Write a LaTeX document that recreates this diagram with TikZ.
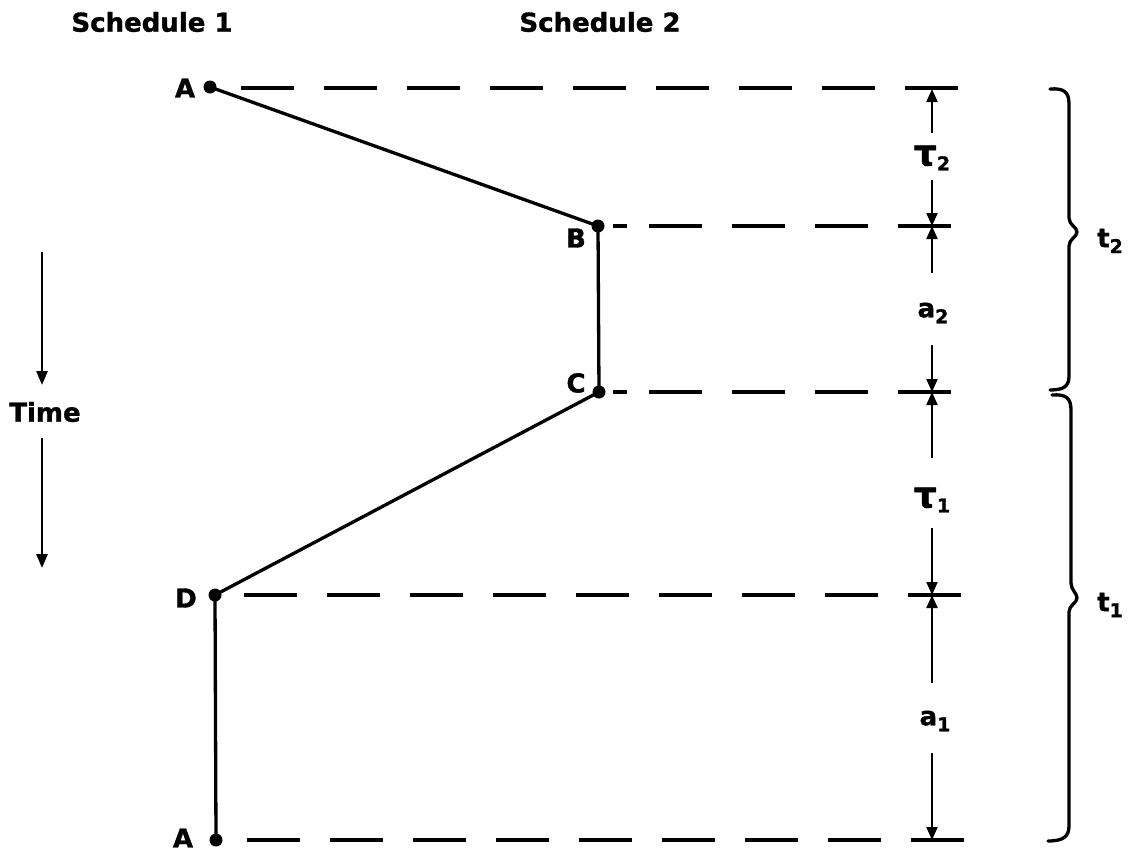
\documentclass[tikz,border=0pt]{standalone}
\usepackage{fontspec}
\setmainfont{DejaVu Sans}
\newfontfamily\heavy[FakeBold=1.2]{DejaVu Sans Bold}
\usetikzlibrary{arrows.meta}
\begin{document}
\begin{tikzpicture}[x=1pt,y=-1pt,
  lbl/.style={font=\fontsize{26}{26}\heavy, inner sep=0pt},
  solidline/.style={line width=3.3pt},
  guide/.style={line width=3.3pt, dash pattern=on 53pt off 30pt},
  dim/.style={line width=2.2pt, -{Triangle[length=13pt,width=11pt]}},
  timearrow/.style={line width=2.6pt, -{Triangle[length=14pt,width=11pt]}},
  pt/.style={circle, fill, inner sep=0pt, minimum size=13pt},
  bracepath/.style={line width=3.3pt, line join=round, line cap=round}
]
\useasboundingbox (0,0) rectangle (1136,852);

% headers
\node[lbl] (s1) at (152,22) {Schedule 1};
\node[lbl] (s2) at (600,22) {Schedule 2};

% time
\node[lbl] (time) at (45,412) {Time};
\coordinate (tu0) at (42,252); \coordinate (tu1) at (42,385);
\coordinate (td0) at (42,438); \coordinate (td1) at (42,568);
\draw[timearrow] (tu0) -- (tu1);
\draw[timearrow] (td0) -- (td1);

% points
\node[pt] (A1) at (210,87) {};
\node[pt] (B) at (598,226) {};
\node[pt] (C) at (599,392) {};
\node[pt] (D) at (215,595) {};
\node[pt] (A2) at (216,840) {};
\draw[solidline] (A1.center) -- (B.center) -- (C.center) -- (D.center) -- (A2.center);

\node[lbl] (lA1) at (185,88) {A};
\node[lbl] (lB) at (576,238) {B};
\node[lbl] (lC) at (576,383) {C};
\node[lbl] (lD) at (186,598) {D};
\node[lbl] (lA2) at (183,838) {A};

% dashed guide lines
\coordinate (g0s) at (241,88);  \coordinate (g0e) at (959,88);
\coordinate (g1a) at (613,226); \coordinate (g1b) at (627,226);
\coordinate (g1s) at (649,226); \coordinate (g1e) at (952,226);
\coordinate (g2a) at (613,392); \coordinate (g2b) at (627,392);
\coordinate (g2s) at (649,392); \coordinate (g2e) at (952,392);
\coordinate (g3s) at (244,595); \coordinate (g3e) at (962,595);
\coordinate (g4s) at (247,840); \coordinate (g4e) at (965,840);
\draw[guide] (g0s) -- (g0e);
\draw[line width=3.3pt] (g1a) -- (g1b);
\draw[guide] (g1s) -- (g1e);
\draw[line width=3.3pt] (g2a) -- (g2b);
\draw[guide] (g2s) -- (g2e);
\draw[guide] (g3s) -- (g3e);
\draw[guide] (g4s) -- (g4e);

% dimension line
\coordinate (T0) at (932,89);
\coordinate (T1) at (932,226);
\coordinate (T2) at (932,392);
\coordinate (T3) at (932,595);
\coordinate (T4) at (932,840);
\node[lbl] (tau2) at (932,158) {{\fontsize{36}{36}\selectfont τ}\raisebox{-5pt}{\fontsize{19}{19}\selectfont 2}};
\node[lbl] (a2) at (933,313) {a\raisebox{-6pt}{\fontsize{19}{19}\selectfont 2}};
\node[lbl] (tau1) at (932,500) {{\fontsize{36}{36}\selectfont τ}\raisebox{-5pt}{\fontsize{19}{19}\selectfont 1}};
\node[lbl] (a1) at (935,721) {a\raisebox{-6pt}{\fontsize{19}{19}\selectfont 1}};
\coordinate (d0) at (932,133);
\coordinate (d1) at (932,180);
\coordinate (d2) at (932,273);
\coordinate (d3) at (932,345);
\coordinate (d4) at (932,458);
\coordinate (d5) at (932,528);
\coordinate (d6) at (932,683);
\coordinate (d7) at (932,753);
\draw[dim] (d0) -- (T0);
\draw[dim] (d1) -- (T1);
\draw[dim] (d2) -- (T1);
\draw[dim] (d3) -- (T2);
\draw[dim] (d4) -- (T2);
\draw[dim] (d5) -- (T3);
\draw[dim] (d6) -- (T3);
\draw[dim] (d7) -- (T4);

% braces
\draw[bracepath] (1050,89) .. controls (1064,88) and (1069,92) .. (1069,104)
  -- (1069,218) .. controls (1069,225) and (1077,227) .. (1077,232)
  .. controls (1077,237) and (1069,239) .. (1069,246)
  -- (1069,376) .. controls (1069,386) and (1064,390) .. (1050,390);
\draw[bracepath] (1052,395) .. controls (1066,394) and (1071,398) .. (1071,410)
  -- (1071,583) .. controls (1071,590) and (1077,593) .. (1077,598)
  .. controls (1077,603) and (1069,605) .. (1069,612)
  -- (1069,826) .. controls (1069,836) and (1064,841) .. (1048,841);
\node[lbl] (t2) at (1110,241) {t\raisebox{-6pt}{\fontsize{19}{19}\selectfont 2}};
\node[lbl] (t1) at (1110,605) {t\raisebox{-6pt}{\fontsize{19}{19}\selectfont 1}};
\end{tikzpicture}
\end{document}
